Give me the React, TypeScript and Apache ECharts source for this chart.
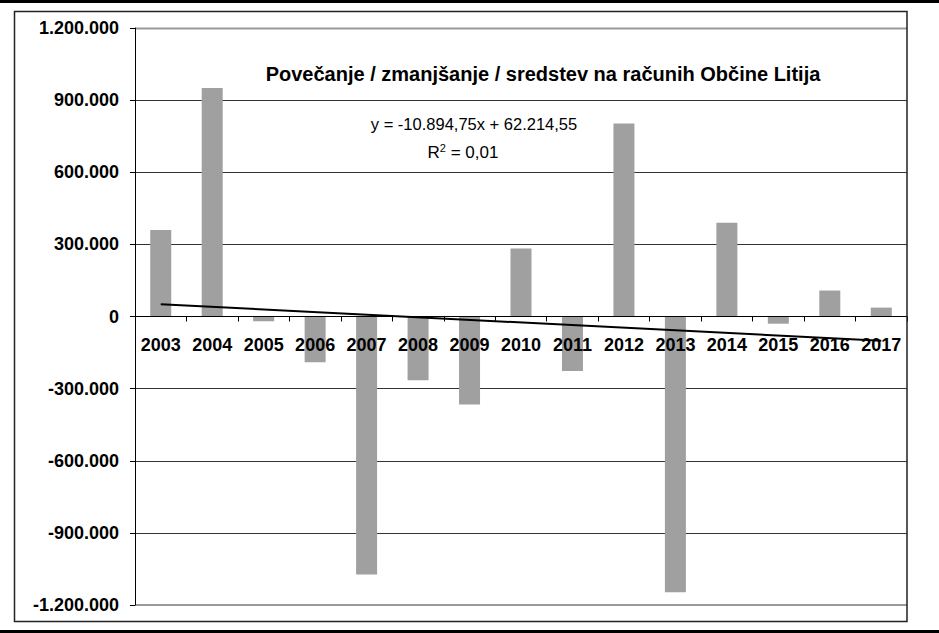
import React, { useEffect, useRef } from "react";
import * as echarts from "echarts";

const categories = ["2003","2004","2005","2006","2007","2008","2009","2010","2011","2012","2013","2014","2015","2016","2017"];
const values = [360000, 950000, -20000, -190000, -1073000, -265000, -366000, 283000, -227000, 803000, -1147000, 390000, -30000, 108000, 37000];
const trendSlope = -10894.75;
const trendIntercept = 62214.55;
const titleText = "Povečanje / zmanjšanje / sredstev na računih Občine Litija";
const eqLine1 = "y = -10.894,75x + 62.214,55";
const yMin = -1200000;
const yMax = 1200000;
const yInterval = 300000;

function fmt(v: number): string {
  const neg = v < 0;
  const s = Math.abs(Math.round(v)).toString().replace(/\B(?=(\d{3})+(?!\d))/g, ".");
  return (neg ? "-" : "") + s;
}

export default function App() {
  const ref = useRef<HTMLDivElement>(null);
  useEffect(() => {
    if (!ref.current) return;
    const chart = echarts.init(ref.current, undefined, { renderer: "svg" });
    const n = categories.length;
    const trendData = [
      [0, trendSlope * 1 + trendIntercept],
      [n - 1, trendSlope * n + trendIntercept],
    ];
    const font = "'Liberation Sans', Arial, sans-serif";
    const gridTop = 28;
    const gridBottom = 28;
    const plotH = 633 - gridTop - gridBottom;
    const zeroOffset = -plotH * (0 - yMin) / (yMax - yMin);
    chart.setOption({
      animation: false,
      backgroundColor: "#fff",
      grid: { left: 135, top: gridTop, right: 32, bottom: gridBottom, containLabel: false, outerBoundsMode: "none" },
      xAxis: {
        type: "category",
        data: categories,
        z: 5,
        position: "bottom",
        offset: zeroOffset,
        axisLine: { onZero: false, lineStyle: { color: "#000", width: 1 } },
        axisTick: { show: true, length: 5, alignWithLabel: false, lineStyle: { color: "#000" } },
        axisLabel: { margin: 19, color: "#000", fontWeight: "bold", fontSize: 18, fontFamily: font, interval: 0 },
        splitLine: { show: false },
      },
      yAxis: {
        type: "value",
        min: yMin,
        max: yMax,
        interval: yInterval,
        axisLine: { show: true, lineStyle: { color: "#000", width: 1 } },
        axisTick: { show: true, length: 5, lineStyle: { color: "#000" } },
        axisLabel: { margin: 16, color: "#000", fontWeight: "bold", fontSize: 18, fontFamily: font, formatter: (v: number) => fmt(v) },
        splitLine: {
          show: true,
          lineStyle: { color: ["#999", "#333", "#333", "#333", "#333", "#333", "#333", "#333", "#999"], width: 1 },
        },
      },
      series: [
        {
          type: "bar",
          data: values,
          barWidth: 21,
          itemStyle: { color: "#a0a0a0" },
          z: 2,
        },
        {
          type: "line",
          data: trendData,
          symbol: "none",
          lineStyle: { color: "#000", width: 2 },
          z: 3,
        },
      ],
      graphic: [
        { type: "rect", shape: { x: 0, y: 0, width: 939, height: 3 }, style: { fill: "#000" }, silent: true },
        { type: "rect", shape: { x: 0, y: 630, width: 939, height: 3 }, style: { fill: "#000" }, silent: true },
        { type: "rect", shape: { x: 14.5, y: 11.5, width: 892.5, height: 610 }, style: { fill: "none", stroke: "#222", lineWidth: 1.5 }, silent: true, z: 10 },
        { type: "line", shape: { x1: 135, y1: 28.5, x2: 907, y2: 28.5 }, style: { stroke: "#999", lineWidth: 2 }, silent: true },
        { type: "line", shape: { x1: 135, y1: 605, x2: 907, y2: 605 }, style: { stroke: "#999", lineWidth: 2 }, silent: true },
        {
          type: "text",
          x: 543,
          y: 74,
          style: { text: titleText, fill: "#000", font: `bold 20px ${font}`, textAlign: "center", textVerticalAlign: "middle" },
        },
        {
          type: "text",
          x: 474,
          y: 124,
          style: { text: eqLine1, fill: "#000", font: `16.5px ${font}`, textAlign: "center", textVerticalAlign: "middle" },
        },
        {
          type: "text",
          x: 463,
          y: 152,
          style: {
            text: "{a|R}{s|2}{a| = 0,01}",
            textAlign: "center",
            textVerticalAlign: "middle",
            rich: {
              a: { fontSize: 17, fontFamily: font, color: "#000" },
              s: { fontSize: 11, fontFamily: font, color: "#000", verticalAlign: "top", padding: [0, 0, 8, 0] },
            },
          },
        },
      ],
    });
    return () => chart.dispose();
  }, []);
  return <div ref={ref} style={{ position: "absolute", left: 0, top: 0, width: 939, height: 633 }} />;
}
